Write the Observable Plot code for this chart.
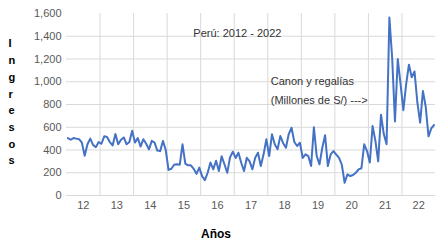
<!DOCTYPE html>
<html><head><meta charset="utf-8">
<script src="https://cdn.jsdelivr.net/npm/d3@7"></script>
<script src="https://cdn.jsdelivr.net/npm/@observablehq/plot@0.6"></script>
<style>html,body{margin:0;padding:0;background:#fff}</style>
</head><body><div id="chart"></div>
<script>
const years = [2012, 2013, 2014, 2015, 2016, 2017, 2018, 2019, 2020, 2021, 2022];
const v2012 = [505, 490, 505, 500, 495, 465, 350, 450, 500, 445, 425, 470];
const v2013 = [455, 520, 515, 470, 440, 540, 450, 490, 510, 450, 470, 570];
const v2014 = [465, 505, 430, 495, 455, 405, 480, 465, 395, 390, 480, 400];
const v2015 = [225, 235, 270, 275, 270, 450, 280, 265, 265, 235, 190, 245];
const v2016 = [170, 135, 200, 290, 230, 305, 215, 345, 275, 200, 335, 385];
const v2017 = [330, 376, 288, 215, 332, 300, 230, 332, 376, 259, 362, 494];
const v2018 = [347, 538, 450, 406, 523, 460, 420, 540, 596, 470, 435, 464];
const v2019 = [330, 362, 347, 259, 600, 347, 274, 420, 530, 259, 362, 391];
const v2020 = [360, 330, 270, 112, 186, 171, 180, 200, 230, 240, 450, 391];
const v2021 = [290, 610, 480, 300, 710, 540, 450, 1565, 1210, 650, 1200, 980];
const v2022 = [750, 980, 1150, 1040, 1090, 820, 640, 919, 780, 520, 590, 620];
const series = [v2012, v2013, v2014, v2015, v2016, v2017, v2018, v2019, v2020, v2021, v2022];
const yTicks = [0, 200, 400, 600, 800, 1000, 1200, 1400, 1600];
const xTickLabels = ["12", "13", "14", "15", "16", "17", "18", "19", "20", "21", "22"];
const titleText = "Perú: 2012 - 2022";
const noteLines = ["Canon y regalías", "(Millones de S/) --->"];
const yLabel = "Ingresos";
const xLabel = "Años";

const data = years.flatMap((y, i) => series[i].map((v, m) => ({x: y + (m + 0.5) / 12, v})));
const xTickPos = years.map(y => y + 0.5);

const chart = Plot.plot({
  width: 442,
  height: 247,
  marginLeft: 66,
  marginRight: 7,
  marginTop: 13,
  marginBottom: 52,
  style: {fontFamily: "'Liberation Sans', Arial, sans-serif", fontSize: "11px", background: "#fff", color: "#595959"},
  x: {domain: [2012, 2023]},
  y: {domain: [0, 1600]},
  marks: [
    Plot.ruleY(yTicks.filter(d => d < 1600), {stroke: "#d9d9d9", strokeWidth: 1}),
    Plot.ruleX(years.slice(1), {stroke: "#d9d9d9", strokeWidth: 1}),
    Plot.axisY({ticks: yTicks, tickSize: 0, tickPadding: 5, tickFormat: d3.format(","), label: null, fill: "#595959"}),
    Plot.axisX({ticks: xTickPos, tickSize: 0, tickPadding: 6, tickFormat: (d, i) => xTickLabels[i], label: null, fill: "#595959"}),
    Plot.line(data, {x: "x", y: "v", stroke: "#4472C4", strokeWidth: 2, strokeLinejoin: "round"}),
    Plot.text([titleText], {x: 2015.78, y: 1426, text: d => d, textAnchor: "start", fill: "#333", fontSize: 11}),
    Plot.text([noteLines[0]], {x: 2018.09, y: 1006, text: d => d, textAnchor: "start", fill: "#333", fontSize: 11}),
    Plot.text([noteLines[1]], {x: 2018.09, y: 839, text: d => d, textAnchor: "start", fill: "#333", fontSize: 11}),
    Plot.text([yLabel.split("").join("\n")], {frameAnchor: "left", dx: -58, dy: -4, text: d => d, lineHeight: 1.52, fontWeight: "bold", fontSize: 11, fill: "#000"}),
    Plot.text([xLabel], {frameAnchor: "bottom", dx: -35, dy: 42, text: d => d, fontWeight: "bold", fontSize: 12, fill: "#000"})
  ]
});
document.getElementById("chart").append(chart);
</script>
</body></html>
